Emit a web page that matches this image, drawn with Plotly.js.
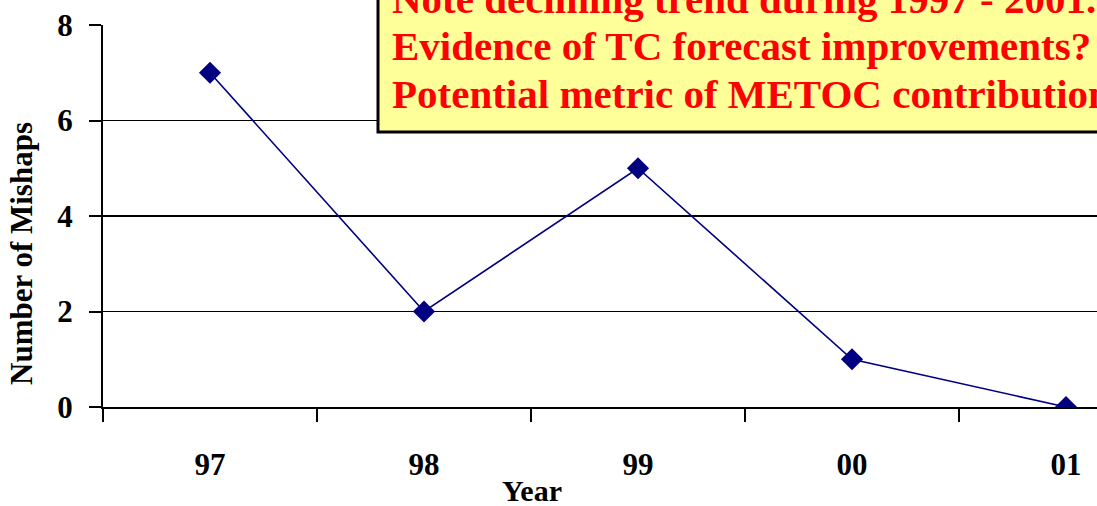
<!DOCTYPE html>
<html>
<head>
<meta charset="utf-8">
<script src="https://cdn.plot.ly/plotly-3.0.1.min.js"></script>
<style>html,body{margin:0;padding:0;background:#fff;}#chart{width:1097px;height:506px;}</style>
</head>
<body>
<div id="chart"></div>
<script>
const years = ['97', '98', '99', '00', '01'];
const mishaps = [7, 2, 5, 1, 0];
const yTickVals = [0, 2, 4, 6, 8];
const gridVals = [2, 4, 6];
const noteLines = [
  'Note declining trend during 1997 - 2001.',
  'Evidence of TC forecast improvements?',
  'Potential metric of METOC contribution.'
];
const xTitle = 'Year';
const yTitle = 'Number of Mishaps';

const W = 1097, H = 506;
const mL = 103, mR = 0, mT = 25, mB = 99;
const pw = W - mL - mR, ph = H - mT - mB;
const px = x => (x - mL) / pw;
const py = y => (H - mB - y) / ph;

const serif = 'Liberation Serif, Times New Roman, serif';
const boldFont = (size, color) => ({family: serif, size: size, color: color || '#000', weight: 700});

const trace = {
  x: years,
  y: mishaps,
  type: 'scatter',
  mode: 'lines+markers',
  line: {color: '#000080', width: 1.6},
  marker: {symbol: 'diamond', size: 17, color: '#000080'},
  hoverinfo: 'skip',
  showlegend: false
};

const noteSize = 41;
const noteBaselines = [13, 60, 107];
const noteAnns = noteLines.map((t, i) => ({
  xref: 'paper', yref: 'paper',
  x: px(390), y: py(noteBaselines[i] + 11.5),
  xanchor: 'left', yanchor: 'bottom',
  align: 'left',
  showarrow: false,
  text: t,
  font: boldFont(noteSize, '#ff0000')
}));

const layout = {
  width: W, height: H,
  margin: {l: mL, r: mR, t: mT, b: mB, pad: 0},
  paper_bgcolor: '#fff',
  plot_bgcolor: '#fff',
  showlegend: false,
  xaxis: {
    type: 'category',
    categoryorder: 'array',
    categoryarray: years,
    range: [-0.5, -0.5 + pw / 214],
    tickson: 'boundaries',
    ticks: 'outside',
    ticklen: 13,
    tickwidth: 2,
    tickcolor: '#000',
    showline: true,
    linecolor: '#000',
    linewidth: 1.5,
    showgrid: false,
    zeroline: false,
    tickfont: boldFont(31),
    ticklabelstandoff: 29,
    fixedrange: true
  },
  yaxis: {
    range: [0, 8],
    tickvals: yTickVals,
    ticktext: yTickVals.map(String),
    ticks: 'outside',
    ticklen: 12,
    tickwidth: 2,
    tickcolor: '#000',
    showline: true,
    linecolor: '#000',
    linewidth: 2,
    showgrid: false,
    zeroline: false,
    tickfont: boldFont(31),
    ticklabelstandoff: 10,
    fixedrange: true
  },
  yaxis2: {
    overlaying: 'y',
    anchor: 'x',
    side: 'left',
    range: [0, 8],
    tickvals: gridVals,
    showticklabels: false,
    ticks: '',
    showgrid: true,
    gridcolor: '#000',
    gridwidth: 1.5,
    showline: false,
    zeroline: false,
    fixedrange: true
  },
  shapes: [{
    type: 'rect', xref: 'paper', yref: 'paper',
    x0: px(378), x1: px(1140), y0: py(132), y1: py(-60),
    fillcolor: '#ffff99',
    line: {color: '#000', width: 3},
    layer: 'above'
  }],
  annotations: noteAnns.concat([
    {
      xref: 'paper', yref: 'paper',
      x: px(532), y: py(490),
      xanchor: 'center', yanchor: 'middle',
      showarrow: false,
      text: xTitle,
      font: boldFont(30)
    },
    {
      xref: 'paper', yref: 'paper',
      x: px(22), y: py(254),
      xanchor: 'center', yanchor: 'middle',
      textangle: -90,
      showarrow: false,
      text: yTitle,
      font: boldFont(31)
    }
  ])
};

Plotly.newPlot('chart', [trace, {x: [], y: [], yaxis: 'y2', type: 'scatter', showlegend: false}], layout, {displayModeBar: false, staticPlot: true});
</script>
</body>
</html>
